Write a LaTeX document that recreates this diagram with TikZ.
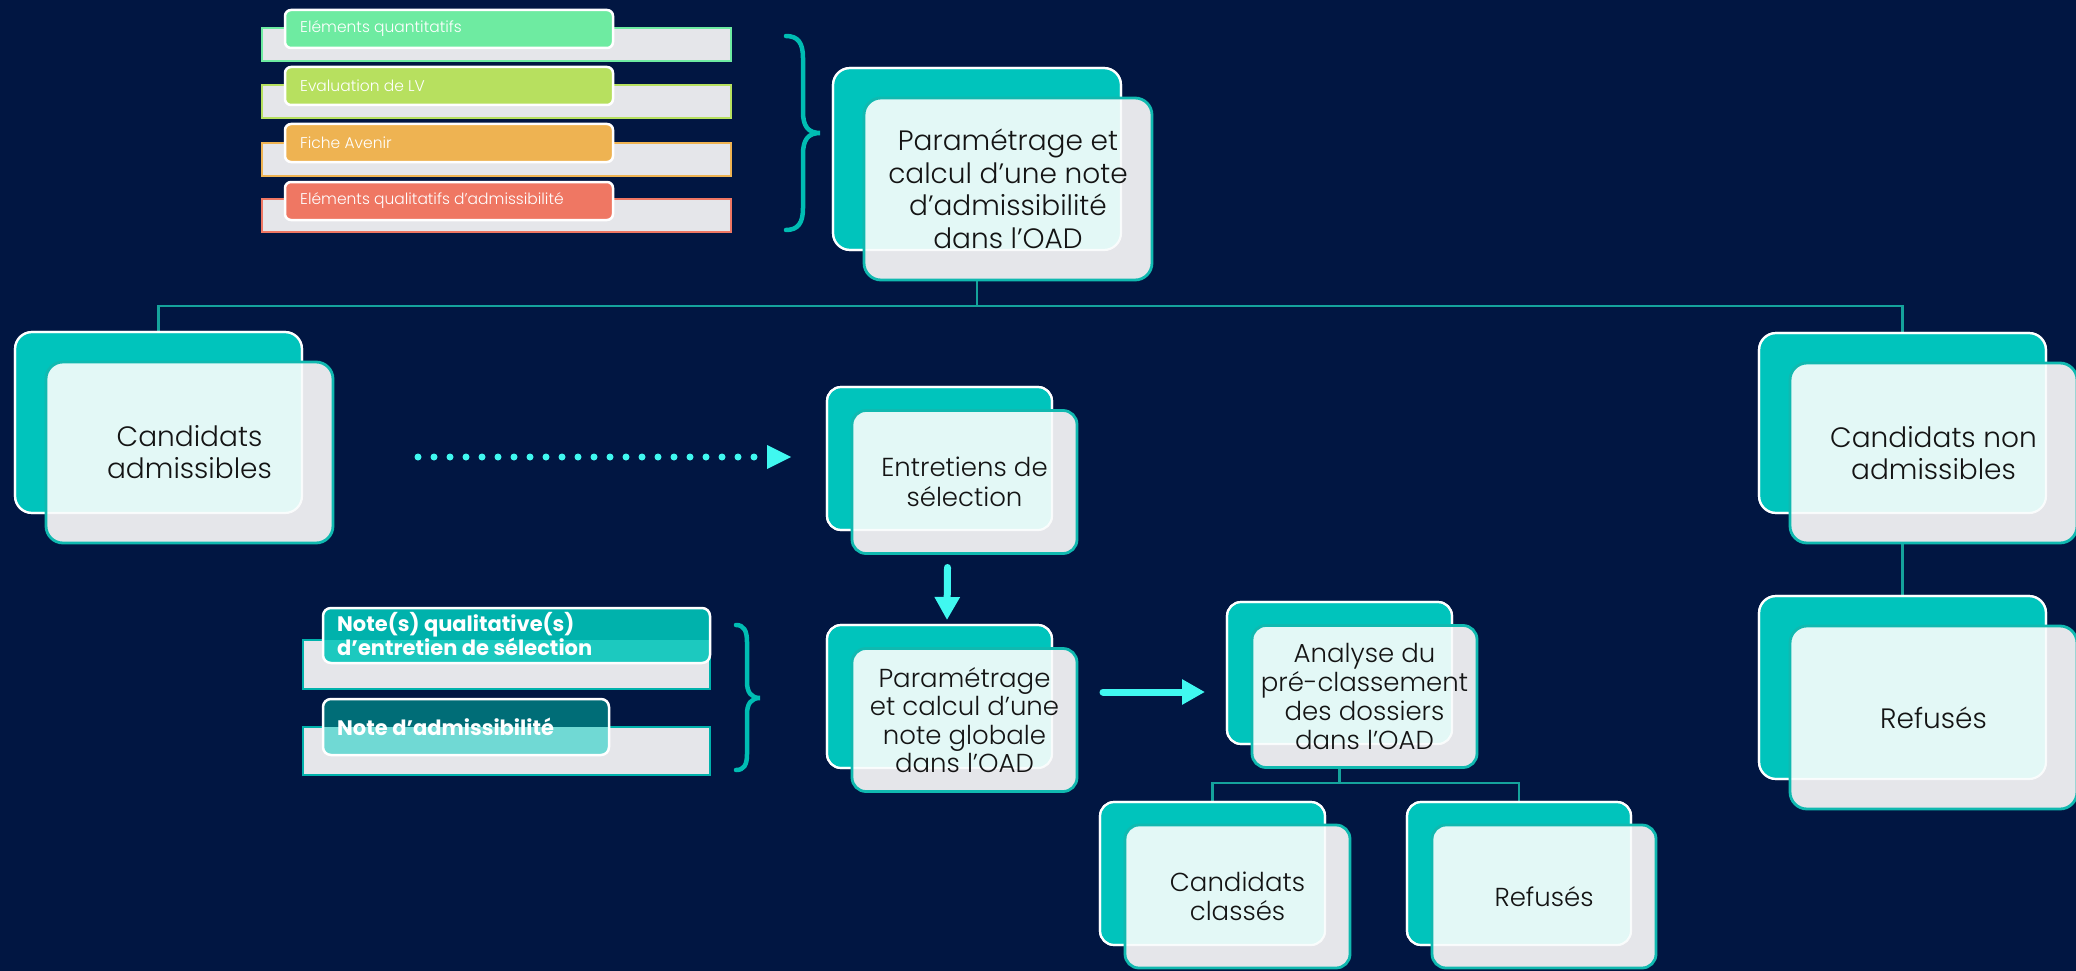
\documentclass[tikz,border=0pt]{standalone}
\usepackage{fontspec}
\setmainfont{Poppins}[UprightFont={* Light},BoldFont={* Bold}]
\usetikzlibrary{arrows.meta,calc}
\pgfdeclarelayer{bg}
\pgfsetlayers{bg,main}
\definecolor{navy}{HTML}{011642}
\definecolor{tealfill}{HTML}{00C4BC}
\definecolor{frontgray}{HTML}{E5E6EA}
\definecolor{lightcyan}{HTML}{E3F8F6}
\definecolor{frontborder}{HTML}{10B9B0}
\definecolor{conncol}{HTML}{15A39C}
\definecolor{arrowcol}{HTML}{40F8F0}
\definecolor{bracecol}{HTML}{00BDB3}
\definecolor{ink}{HTML}{141414}
\definecolor{cgreen}{HTML}{6EEBA1}
\definecolor{clime}{HTML}{B7E05F}
\definecolor{corange}{HTML}{EEB352}
\definecolor{csalmon}{HTML}{EF7763}
\definecolor{qa}{HTML}{00B2AC}
\definecolor{qb}{HTML}{1CC9BF}
\definecolor{na}{HTML}{006D77}
\definecolor{nb}{HTML}{70D9D4}
\def\rr{17pt}
\newcommand\duo[9]{%
  \node[backbox, minimum width=#4pt, minimum height=#5pt] (#1B) at (#2,#3) {};
  \node[frontbox, minimum width=#4pt, minimum height=#5pt] (#1F) at (#2+#6,#3+#7) {};
  \begin{scope}
    \clip[rounded corners=\rr] (#1B.south west) rectangle (#1B.north east);
    \fill[lightcyan, rounded corners=\rr] (#1F.south west) rectangle (#1F.north east);
  \end{scope}
  \draw[white, opacity=0.8, line width=2.2pt, rounded corners=\rr] (#1B.south west) rectangle (#1B.north east);
  \draw[frontborder, line width=2.8pt, rounded corners=\rr] (#1F.south west) rectangle (#1F.north east);
  \node[boxtext, font=#8] (#1) at (#1F.center) {#9};
}
\newcommand\topbar[5]{% name, color, back y1, front y1, text
  \node[minimum width=469pt, minimum height=33pt, inner sep=0pt, outer sep=0pt, fill=frontgray, draw=#2, line width=2pt] (#1B) at (496.5,#3+16.5) {};
  \node[minimum width=328pt, minimum height=38pt, inner sep=0pt, outer sep=0pt, fill=#2, draw=white, line width=2.5pt, rounded corners=6pt] (#1F) at (449,#4+19) {};
  \node[anchor=west, inner sep=0pt, text=white, font=\fontsize{15.5}{19}\selectfont] (#1) at (300,#4+19) {#5};
}
\begin{document}
\begin{tikzpicture}[x=1pt,y=-1pt,
  backbox/.style={draw=white, line width=2.2pt, fill=tealfill, rounded corners=\rr, outer sep=0pt, inner sep=0pt},
  frontbox/.style={fill=frontgray, draw=none, rounded corners=\rr, outer sep=0pt, inner sep=0pt},
  boxtext/.style={align=center, text=ink, inner sep=0pt},
  conn/.style={draw=conncol, line width=2.4pt},
  fatarrow/.style={draw=arrowcol, line width=7pt, line cap=round, -{Triangle[length=23pt,width=24pt]}},
  brace/.style={draw=bracecol, line width=4.5pt, line cap=round},
  qtext/.style={anchor=west, inner sep=0pt, text=white, align=left, font=\bfseries\fontsize{21}{24.5}\selectfont}
]
\begin{pgfonlayer}{bg}
  \fill[navy] (0,0) rectangle (2076,971);
\end{pgfonlayer}
\useasboundingbox (0,0) rectangle (2076,971);

% top input bars
\topbar{t1}{cgreen}{28}{10}{Eléments quantitatifs}
\topbar{t2}{clime}{85}{67}{Evaluation de LV}
\topbar{t3}{corange}{143}{124}{Fiche Avenir}
\topbar{t4}{csalmon}{199}{182}{Eléments qualitatifs d’admissibilité}

% top brace
\draw[brace] (786,36) .. controls (798,36) and (803,43) .. (803,58) -- (803,112) .. controls (803,126) and (808,133) .. (820,133) .. controls (808,133) and (803,140) .. (803,154) -- (803,208) .. controls (803,223) and (798,230) .. (786,230);

% big boxes
\def\rr{17pt}
\duo{top}{977}{159}{288}{182}{31}{30}{\fontsize{28}{32.5}\selectfont}{Paramétrage et\\calcul d’une note\\d’admissibilité\\dans l’OAD}
\duo{adm}{158.5}{422.5}{287}{181}{31}{30}{\fontsize{28}{32}\selectfont}{Candidats\\admissibles}
\duo{non}{1902.5}{423}{287}{180}{31}{30}{\fontsize{28}{32}\selectfont}{Candidats non\\admissibles}
\duo{refr}{1902.5}{687.5}{287}{183}{31}{30}{\fontsize{28}{32}\selectfont}{Refusés}

% medium boxes
\def\rr{14pt}
\duo{ent}{939.5}{458.5}{225}{143}{25}{23.5}{\fontsize{26}{30}\selectfont}{Entretiens de\\sélection}
\duo{glob}{939.5}{696.5}{225}{143}{25}{23.5}{\fontsize{26}{28.5}\selectfont}{Paramétrage\\et calcul d’une\\note globale\\dans l’OAD}
\duo{ana}{1339.5}{673}{225}{142}{25}{23.5}{\fontsize{26}{29}\selectfont}{Analyse du\\pré-classement\\des dossiers\\dans l’OAD}
\duo{cla}{1212.5}{873.5}{225}{143}{25}{23}{\fontsize{26}{29}\selectfont}{Candidats\\classés}
\duo{refb}{1519}{873.5}{224}{143}{25}{23}{\fontsize{26}{29}\selectfont}{Refusés}

% lower input bars
\node[minimum width=407pt, minimum height=49pt, inner sep=0pt, outer sep=0pt, fill=frontgray, draw=qa, line width=1.5pt] (q1B) at (506.5,664.5) {};
\node[minimum width=387pt, minimum height=55pt, inner sep=0pt, outer sep=0pt, fill=qa, rounded corners=8pt] (q1F) at (516.5,635.5) {};
\begin{scope}
  \clip (q1B.south west) rectangle (q1B.north east);
  \fill[qb, rounded corners=8pt] (q1F.south west) rectangle (q1F.north east);
\end{scope}
\draw[white, line width=2.5pt, rounded corners=8pt] (q1F.south west) rectangle (q1F.north east);
\node[qtext] (q1) at (337,634) {Note(s) qualitative(s)\\d’entretien de sélection};

\node[minimum width=407pt, minimum height=48pt, inner sep=0pt, outer sep=0pt, fill=frontgray, draw=qa, line width=1.5pt] (q2B) at (506.5,751) {};
\node[minimum width=286pt, minimum height=56pt, inner sep=0pt, outer sep=0pt, fill=na, rounded corners=8pt] (q2F) at (466,727) {};
\begin{scope}
  \clip (q2B.south west) rectangle (q2B.north east);
  \fill[nb, rounded corners=8pt] (q2F.south west) rectangle (q2F.north east);
\end{scope}
\draw[white, line width=2.5pt, rounded corners=8pt] (q2F.south west) rectangle (q2F.north east);
\node[qtext] (q2) at (337,727) {Note d’admissibilité};

% lower brace
\draw[brace] (736,625) .. controls (744,625) and (747,631) .. (747,642) -- (747,682) .. controls (747,692) and (751,698) .. (760,698) .. controls (751,698) and (747,704) .. (747,714) -- (747,754) .. controls (747,765) and (744,770) .. (736,770);

% connectors (behind boxes)
\begin{pgfonlayer}{bg}
  \draw[conn] (topB.south) -- ++(0,56) coordinate (hub) -| (admB.north);
  \draw[conn] (hub) -| (nonB.north);
  \draw[conn] (nonB.south) -- (refrB.north);
  \draw[conn] (anaB.south) -- ++(0,39) coordinate (hub2) -| (claB.north);
  \draw[conn] (hub2) -| (refbB.north);
\end{pgfonlayer}

% dotted arrow
\coordinate (dotS) at (418,457);
\coordinate (dotE) at (755,457);
\coordinate (dotT) at (791,457);
\draw[arrowcol, line width=7pt, line cap=round, dash pattern=on 0pt off 16pt] (dotS) -- (dotE);
\fill[arrowcol] (767,445) -- (dotT) -- (767,469) -- cycle;

% solid arrows
\draw[fatarrow] ([xshift=-17pt,yshift=-14pt]entF.south) -- ([xshift=7.5pt,yshift=5pt]globB.north);
\draw[fatarrow] ([xshift=26pt,yshift=28pt]globF.east) -- ([xshift=-22pt,yshift=-19pt]anaB.west);
\end{tikzpicture}
\end{document}
